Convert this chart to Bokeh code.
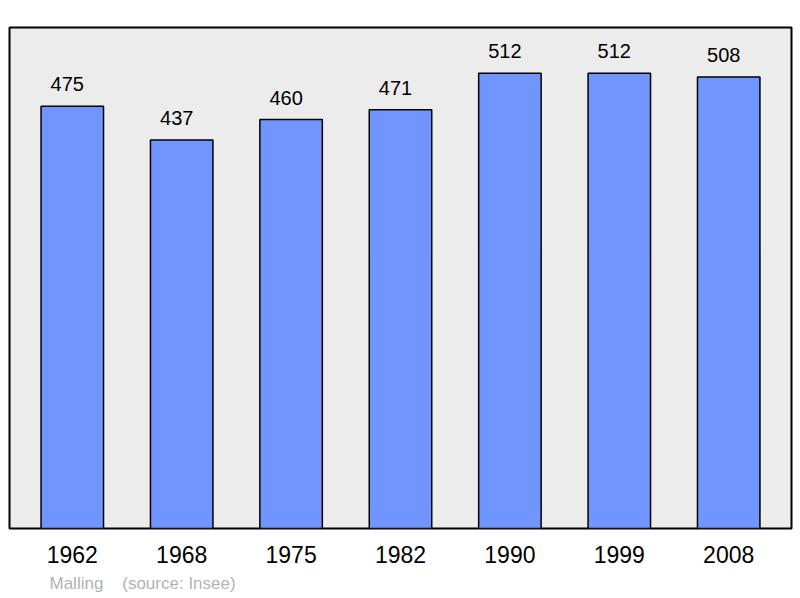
from bokeh.plotting import figure
from bokeh.models import ColumnDataSource, Range1d, FactorRange, Title
from bokeh.core.properties import value
from bokeh.embed import file_html
from bokeh.resources import INLINE

years = ["1962", "1968", "1975", "1982", "1990", "1999", "2008"]
population = [475, 437, 460, 471, 512, 512, 508]
labels = [str(v) for v in population]
source_note = "Malling\u00a0\u00a0\u00a0\u00a0(source: Insee)"

src = ColumnDataSource(dict(year=years, pop=population, lab=labels))

p = figure(width=800, height=598, output_backend="svg", toolbar_location=None,
           x_range=FactorRange(factors=years, range_padding=0.074, range_padding_units="absolute"),
           y_range=Range1d(0, 563.6),
           min_border_left=9, min_border_right=9, min_border_top=27, min_border_bottom=70)

p.background_fill_color = "#ececec"
p.border_fill_color = "white"
p.outline_line_color = "#000000"
p.outline_line_width = 2
p.xgrid.visible = False
p.ygrid.visible = False
p.yaxis.visible = False

p.vbar(x="year", top="pop", width=0.571, bottom=0, source=src,
       fill_color="#7095ff", line_color="#000000", line_width=1.5)

p.text(x="year", y="pop", text="lab", source=src, text_align="center",
       text_baseline="alphabetic", x_offset=-5, y_offset=-22,
       text_font=value("Liberation Sans"), text_font_size="20px", text_color="#000000")

xa = p.xaxis[0]
xa.axis_line_color = None
xa.major_tick_line_color = None
xa.minor_tick_line_color = None
xa.major_tick_out = 0
xa.major_tick_in = 0
xa.major_label_standoff = 17
xa.major_label_text_font = "Liberation Sans"
xa.major_label_text_font_size = "23px"
xa.major_label_text_color = "#000000"

note = Title(text=source_note, align="left", offset=40, standoff=12,
             vertical_align="bottom",
             text_font="Liberation Sans", text_font_size="17px",
             text_font_style="normal", text_color="#b3b3b3")
p.add_layout(note, "below")

open("out.html", "w").write(file_html(p, INLINE))
